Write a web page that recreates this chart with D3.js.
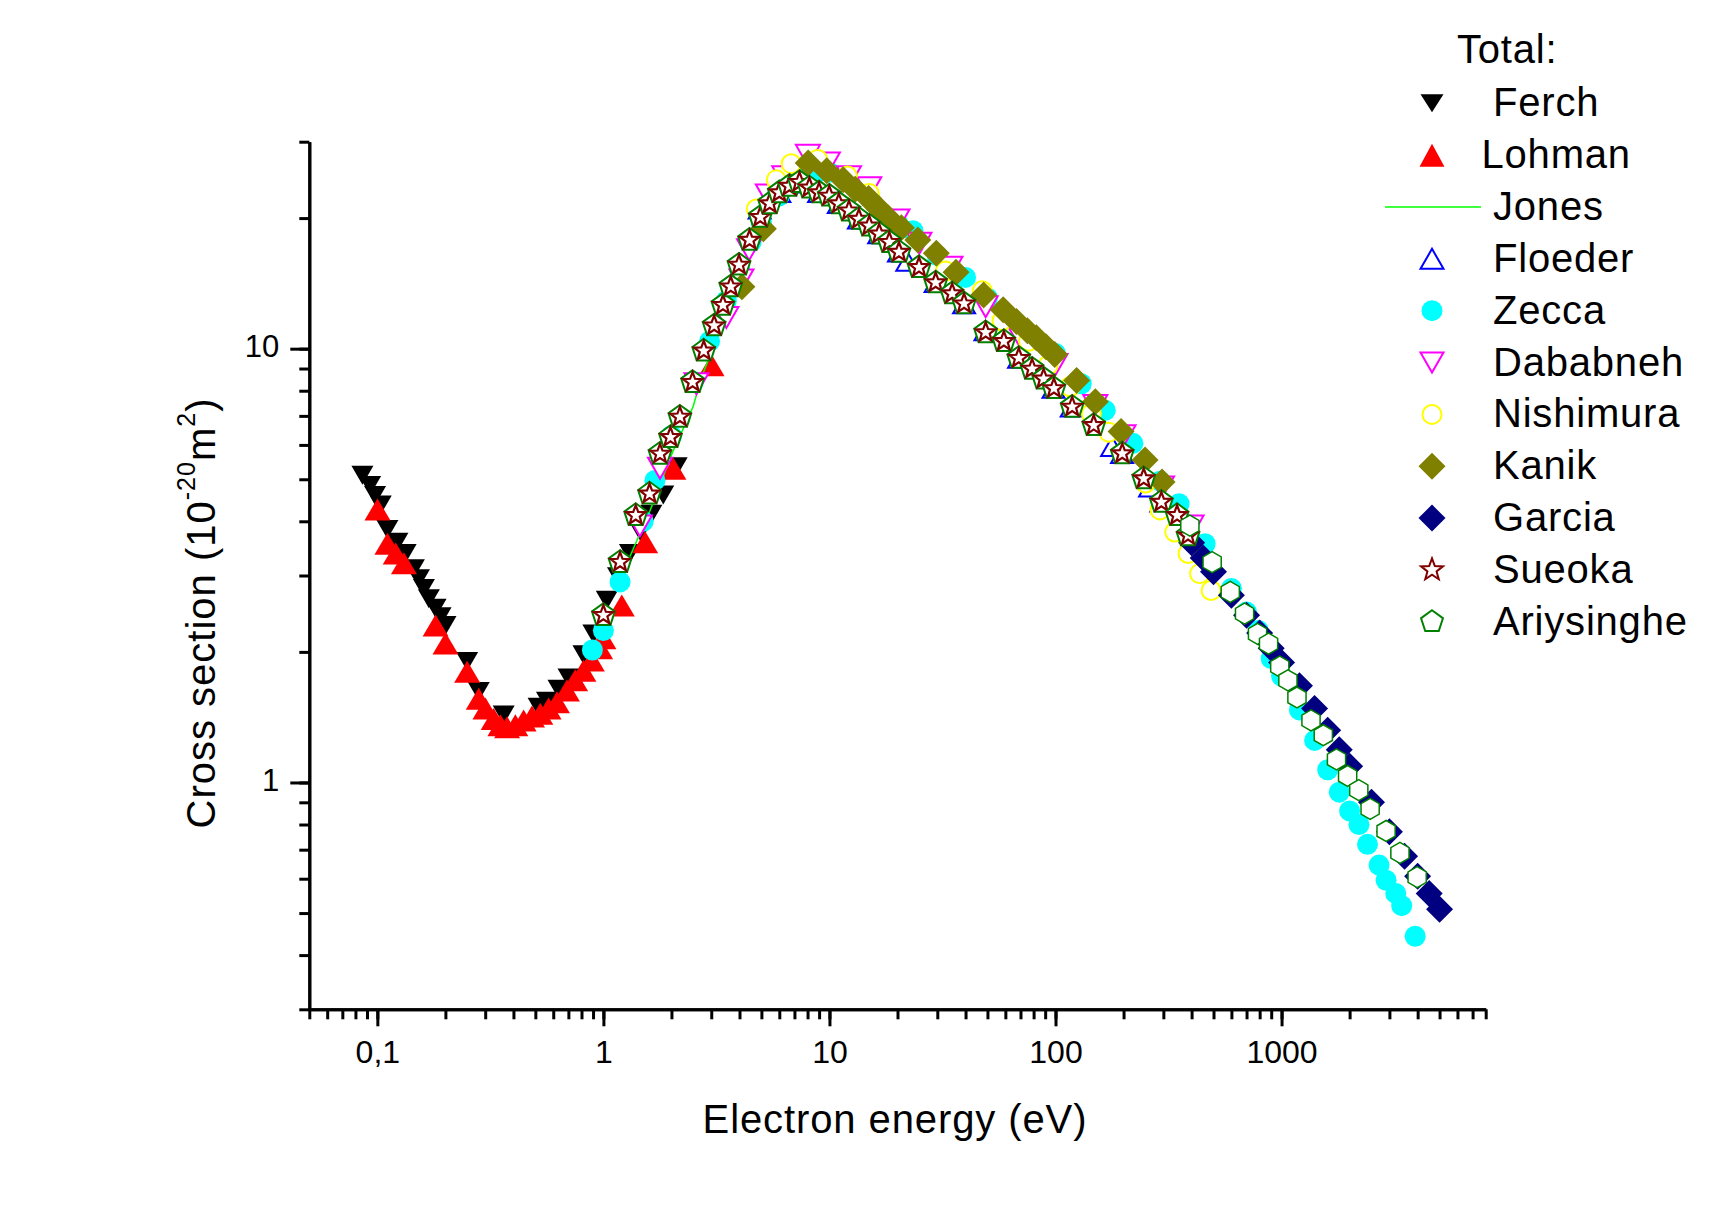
<!DOCTYPE html>
<html>
<head>
<meta charset="utf-8">
<script src="https://cdn.jsdelivr.net/npm/d3@7"></script>
<style>
body { margin: 0; background: #fff; }
svg { display: block; }
text { font-family: Arial, "Liberation Sans", sans-serif; fill: #000; }
</style>
</head>
<body>
<div id="chart"></div>
<script>
var w = 1725,
    h = 1209;

// [electron energy (eV), cross section (1e-20 m2)]
var ferch = [[0.0859,5.11],[0.0929,4.84],[0.0977,4.59],[0.1035,4.36],[0.1108,3.83],[0.1227,3.58],
  [0.1334,3.37],[0.1451,3.11],[0.1528,2.95],[0.1607,2.80],[0.169,2.65],[0.181,2.52],[0.1904,2.41],
  [0.2002,2.30],[0.2496,1.90],[0.2809,1.62],[0.3621,1.43],[0.5168,1.49],[0.5627,1.54],[0.633,1.64],
  [0.701,1.74],[0.816,1.97],[0.903,2.20],[1.035,2.63],[1.16,2.98],[1.31,3.37],[1.46,3.78],[1.63,4.15],
  [1.84,4.6],[2.11,5.34]];

var lohman = [[0.1001,4.26],[0.1108,3.55],[0.1206,3.37],[0.1311,3.20],[0.181,2.30],[0.2002,2.09],
  [0.2496,1.80],[0.2809,1.56],[0.3007,1.48],[0.3271,1.40],[0.3502,1.355],[0.3749,1.34],[0.4078,1.355],
  [0.4437,1.39],[0.4832,1.42],[0.5257,1.44],[0.572,1.48],[0.623,1.53],[0.6896,1.63],[0.750,1.72],
  [0.816,1.81],[0.889,1.91],[0.967,2.04],[1.0,2.15],[1.206,2.56],[1.53,3.58],[2.04,5.29],[3.01,9.16]];

var jones = [[1.25,3.1],[1.31,3.32],[1.61,4.24],[2.04,5.83],[2.49,7.34],[2.72,8.6],[3.0,9.8],[3.5,12.0],
  [4.0,14.6],[5.0,19.5],[6.0,22.4],[7.5,24.0],[10,23.2],[15,20.0],[20,17.4]];

var floeder = [[4.91,21.0],[6.0,22.9],[7.4,24.1],[9.0,22.9],[11,21.6],[13.5,19.9],[16.6,18.4],[20.3,16.7],
  [22.1,15.9],[29.5,14.2],[39.4,12.7],[49,11.0],[69,9.5],[98,8.1],[118,7.34],[178,5.95],[197,5.73],
  [262,4.8],[294,4.43]];

var zecca = [[0.894,2.02],[1.0,2.24],[1.185,2.90],[1.5,4.0],[1.69,4.97],[2.0,6.3],[2.5,8.4],[2.95,10.4],
  [3.5,12.9],[4.0,15.3],[4.5,17.6],[5.0,19.5],[6.0,22.5],[7.0,24.6],[8.0,25.6],[9.0,25.6],[10,25.5],
  [12,24.3],[15,22.3],[20,19.5],[23.4,18.7],[30,16.4],[40,14.6],[50,13.1],[60,12.0],[80,10.6],[100,9.75],
  [130,8.3],[166,7.21],[220,6.05],[290,4.95],[352,4.39],[459,3.55],[600,2.80],[700,2.47],[789,2.24],
  [900,1.93],[1000,1.76],[1200,1.47],[1400,1.25],[1600,1.07],[1800,0.95],[2000,0.86],[2200,0.80],
  [2400,0.72],[2700,0.645],[2900,0.595],[3200,0.555],[3400,0.52],[3900,0.442]];

var dababneh = [[1.45,3.9],[1.78,5.3],[2.58,8.3],[3.5,11.8],[4.08,14.4],[4.41,16.9],[5.34,22.6],
  [6.31,24.9],[8.03,27.9],[9.84,26.8],[12.2,24.9],[15.0,23.5],[20,19.8],[25,17.5],[34.3,15.4],
  [49.1,12.5],[70,10.6],[100,9.2],[150,7.4],[200,6.3],[296,4.8],[400,3.9]];

var nishimura = [[4.75,21.0],[5.82,24.5],[6.77,26.7],[8.87,27.3],[12,25.0],[15,22.8],[20.3,19.0],
  [32.6,15.1],[47.4,13.6],[58,11.6],[76,10.4],[92.8,9.16],[116,8.17],[144,7.08],[172,6.42],[250,4.9],
  [290,4.25],[337,3.78],[386,3.37],[434,3.03],[488,2.77]];

var kanik = [[4.1,13.9],[5.1,18.9],[8.05,26.8],[9.73,25.7],[11.5,24.5],[13.0,23.3],[14.9,22.2],
  [16.6,21.0],[18.2,20.0],[20.8,19.0],[24.6,17.8],[29.7,16.6],[36.3,15.0],[48.1,13.3],[58.7,12.3],
  [67.2,11.55],[75.1,11.0],[82.2,10.6],[90.7,10.1],[99.2,9.69],[124,8.45],[150,7.54],[195,6.44],
  [249,5.54],[296,4.93]];

var garcia = [[400,3.57],[450,3.29],[500,3.06],[600,2.70],[700,2.43],[800,2.21],[900,2.04],[1000,1.89],
  [1200,1.67],[1400,1.48],[1600,1.32],[1800,1.19],[2000,1.09],[2500,0.90],[3000,0.77],[3500,0.676],
  [4000,0.608],[4500,0.555],[5000,0.51]];

var sueoka = [[1.0,2.43],[1.185,3.22],[1.39,4.13],[1.6,4.63],[1.78,5.72],[1.98,6.25],[2.18,6.96],
  [2.48,8.37],[2.78,9.89],[3.09,11.3],[3.38,12.6],[3.66,13.9],[3.98,15.6],[4.43,17.8],[4.94,20.1],
  [5.44,21.6],[6.0,22.9],[6.65,23.7],[7.37,24.2],[8.15,23.5],[9.0,22.9],[9.98,22.5],[11.0,21.6],
  [12.2,20.8],[13.5,19.9],[15.0,19.2],[16.6,18.4],[18.4,17.6],[20.3,16.7],[24.9,15.4],[29.5,14.2],
  [34.9,13.4],[39.4,12.7],[49.1,10.9],[59.1,10.4],[68.8,9.51],[78.8,8.98],[88.6,8.52],[98.4,8.10],
  [118.5,7.34],[147.6,6.66],[197.4,5.73],[245.6,5.02],[294,4.43],[345,4.13],[385.7,3.71]];

var ariysinghe = [[393,3.91],[493,3.22],[593,2.75],[686,2.45],[783,2.20],[876,2.09],[982,1.85],
  [1067,1.72],[1170,1.57],[1350,1.39],[1530,1.285],[1750,1.13],[1960,1.035],[2196,0.96],[2465,0.869],
  [2900,0.773],[3340,0.688],[3980,0.605]];

var xTicks = [0.1, 1, 10, 100, 1000];
var xTickLabels = ["0,1", "1", "10", "100", "1000"];
var yTicks = [1, 10];
var yTickLabels = ["1", "10"];

var svg = d3.select("#chart")
  .append("svg")
  .attr("width", w)
  .attr("height", h);

var x = d3.scaleLog().domain([0.05, 8000]).range([309.3, 1485.7]);
var y = d3.scaleLog().domain([0.3, 30]).range([1009.3, 141.7]);

// ---- marker shapes, centred on 0,0
function triUp(s, hh) {
  return "M" + (-s / 2) + "," + (hh / 2) + "L" + (s / 2) + "," + (hh / 2) + "L0," + (-hh / 2) + "Z";
}
function triDown(s, hh) {
  return "M" + (-s / 2) + "," + (-hh / 2) + "L" + (s / 2) + "," + (-hh / 2) + "L0," + (hh / 2) + "Z";
}
function diamond(r) {
  return "M0," + (-r) + "L" + r + ",0L0," + r + "L" + (-r) + ",0Z";
}
function poly(n, r) {
  var p = [];
  for (var k = 0; k < n; k++) {
    var a = -Math.PI / 2 + 2 * Math.PI * k / n;
    p.push([r * Math.cos(a), r * Math.sin(a)]);
  }
  return "M" + p.join("L") + "Z";
}
function star(r, ri) {
  var p = [];
  for (var k = 0; k < 10; k++) {
    var a = -Math.PI / 2 + Math.PI * k / 5;
    var rr = k % 2 ? ri : r;
    p.push([rr * Math.cos(a), rr * Math.sin(a)]);
  }
  return "M" + p.join("L") + "Z";
}

function pathMarks(data, d, fill, stroke, sw) {
  svg.append("g").selectAll("path")
    .data(data)
    .enter()
    .append("path")
    .attr("transform", function(p) { return "translate(" + x(p[0]) + "," + y(p[1]) + ")"; })
    .attr("d", d)
    .attr("fill", fill)
    .attr("stroke", stroke)
    .attr("stroke-width", sw);
}
function circleMarks(data, r, fill, stroke, sw) {
  svg.append("g").selectAll("circle")
    .data(data)
    .enter()
    .append("circle")
    .attr("cx", function(p) { return x(p[0]); })
    .attr("cy", function(p) { return y(p[1]); })
    .attr("r", r)
    .attr("fill", fill)
    .attr("stroke", stroke)
    .attr("stroke-width", sw);
}

// ---- axes
var gxMinor = svg.append("g").attr("transform", "translate(0,1009.3)")
  .call(d3.axisBottom(x).tickValues(x.ticks()).tickSize(10).tickSizeOuter(0).tickFormat(""));
var gxMajor = svg.append("g").attr("transform", "translate(0,1009.3)")
  .call(d3.axisBottom(x).tickValues(xTicks).tickSize(17).tickSizeOuter(0)
    .tickFormat(function(d, i) { return xTickLabels[i]; }));
var gyMinor = svg.append("g").attr("transform", "translate(309.3,0)")
  .call(d3.axisLeft(y).tickValues(y.ticks()).tickSize(10).tickSizeOuter(0).tickFormat(""));
var gyMajor = svg.append("g").attr("transform", "translate(309.3,0)")
  .call(d3.axisLeft(y).tickValues(yTicks).tickSize(19).tickSizeOuter(0)
    .tickFormat(function(d, i) { return yTickLabels[i]; }));

svg.selectAll(".domain").attr("stroke", "#000").attr("stroke-width", 3);
svg.selectAll(".tick line").attr("stroke", "#000").attr("stroke-width", 3);
gxMajor.selectAll("text").attr("y", 54).attr("dy", 0)
  .style("font-size", "32px").style("font-family", "Arial, 'Liberation Sans', sans-serif").attr("fill", "#000");
gyMajor.selectAll("text").attr("x", -30).attr("dy", "0.25em")
  .style("font-size", "31px").style("font-family", "Arial, 'Liberation Sans', sans-serif").attr("fill", "#000");

// axis titles
svg.append("text")
  .attr("x", 895).attr("y", 1133)
  .attr("text-anchor", "middle")
  .style("font-size", "40px")
  .style("letter-spacing", "0.9px")
  .text("Electron energy (eV)");

var yt = svg.append("text")
  .attr("transform", "translate(215,613) rotate(-90)")
  .attr("text-anchor", "middle")
  .style("font-size", "40px")
  .style("letter-spacing", "1px");
yt.append("tspan").text("Cross section (10");
yt.append("tspan").attr("dy", -20).style("font-size", "25px").text("-20");
yt.append("tspan").attr("dy", 20).text("m");
yt.append("tspan").attr("dy", -20).style("font-size", "25px").text("2");
yt.append("tspan").attr("dy", 20).text(")");

// ---- series, in legend order
pathMarks(ferch, triDown(22, 19), "#000", "none", 0);
pathMarks(lohman, triUp(26, 22), "#ff0000", "none", 0);

svg.append("path")
  .datum(jones)
  .attr("fill", "none")
  .attr("stroke", "#00ff00")
  .attr("stroke-width", 1.5)
  .attr("d", d3.line().x(function(p) { return x(p[0]); }).y(function(p) { return y(p[1]); }));

pathMarks(floeder, triUp(22, 19), "#fff", "#0000ff", 2);
circleMarks(zecca, 10.5, "#00ffff", "none", 0);
pathMarks(dababneh, triDown(24, 21), "#fff", "#ff00ff", 2);
circleMarks(nishimura, 9.5, "#fff", "#ffff00", 2);
pathMarks(kanik, diamond(13.5), "#808000", "none", 0);
pathMarks(garcia, diamond(13.5), "#000080", "none", 0);

// Sueoka points show as a star framed by a pentagon
svg.append("g").selectAll("g")
  .data(sueoka)
  .enter()
  .append("g")
  .attr("transform", function(p) { return "translate(" + x(p[0]) + "," + y(p[1]) + ")"; })
  .each(function() {
    var g = d3.select(this);
    g.append("path").attr("d", poly(5, 12)).attr("fill", "#fff").attr("stroke", "#008000").attr("stroke-width", 2);
    g.append("path").attr("d", star(10, 4.2)).attr("fill", "none").attr("stroke", "#800000").attr("stroke-width", 2.2);
  });

pathMarks(ariysinghe, poly(6, 10.5), "#fff", "#008000", 1.5);

// ---- legend
var legend = [
  { name: "Ferch", dx: 0, draw: function(g) { g.append("path").attr("d", triDown(23, 18)).attr("fill", "#000"); } },
  { name: "Lohman", dx: -11.5, draw: function(g) { g.append("path").attr("d", triUp(25, 23)).attr("fill", "#ff0000"); } },
  { name: "Jones", dx: 0, draw: function(g) { g.append("line").attr("x1", -47).attr("x2", 49).attr("stroke", "#00ff00").attr("stroke-width", 1.5); } },
  { name: "Floeder", dx: 0, draw: function(g) { g.append("path").attr("d", triUp(23, 20)).attr("fill", "#fff").attr("stroke", "#0000ff").attr("stroke-width", 2); } },
  { name: "Zecca", dx: 0, draw: function(g) { g.append("circle").attr("r", 10.5).attr("fill", "#00ffff"); } },
  { name: "Dababneh", dx: 0, draw: function(g) { g.append("path").attr("d", triDown(23, 20)).attr("fill", "#fff").attr("stroke", "#ff00ff").attr("stroke-width", 2); } },
  { name: "Nishimura", dx: 0, draw: function(g) { g.append("circle").attr("r", 9.5).attr("fill", "#fff").attr("stroke", "#ffff00").attr("stroke-width", 2); } },
  { name: "Kanik", dx: 0, draw: function(g) { g.append("path").attr("d", diamond(13.5)).attr("fill", "#808000"); } },
  { name: "Garcia", dx: 0, draw: function(g) { g.append("path").attr("d", diamond(13.5)).attr("fill", "#000080"); } },
  { name: "Sueoka", dx: 0, draw: function(g) { g.append("path").attr("d", star(11.5, 4.8)).attr("fill", "#fff").attr("stroke", "#800000").attr("stroke-width", 2); } },
  { name: "Ariysinghe", dx: 0, draw: function(g) { g.append("path").attr("d", poly(5, 11.5)).attr("fill", "#fff").attr("stroke", "#008000").attr("stroke-width", 2); } }
];

svg.append("text")
  .attr("x", 1457).attr("y", 63)
  .style("font-size", "40px")
  .style("letter-spacing", "0.8px")
  .text("Total:");

var rows = svg.append("g").selectAll("g")
  .data(legend)
  .enter()
  .append("g")
  .attr("transform", function(d, i) { return "translate(0," + (103.3 + 51.85 * i) + ")"; });

rows.each(function(d) {
  var s = d3.select(this).append("g").attr("transform", "translate(1432,0)");
  d.draw(s);
});

rows.append("text")
  .attr("x", function(d) { return 1493 + d.dx; })
  .attr("y", 13)
  .style("font-size", "40px")
  .style("letter-spacing", "0.8px")
  .text(function(d) { return d.name; });
</script>
</body>
</html>
